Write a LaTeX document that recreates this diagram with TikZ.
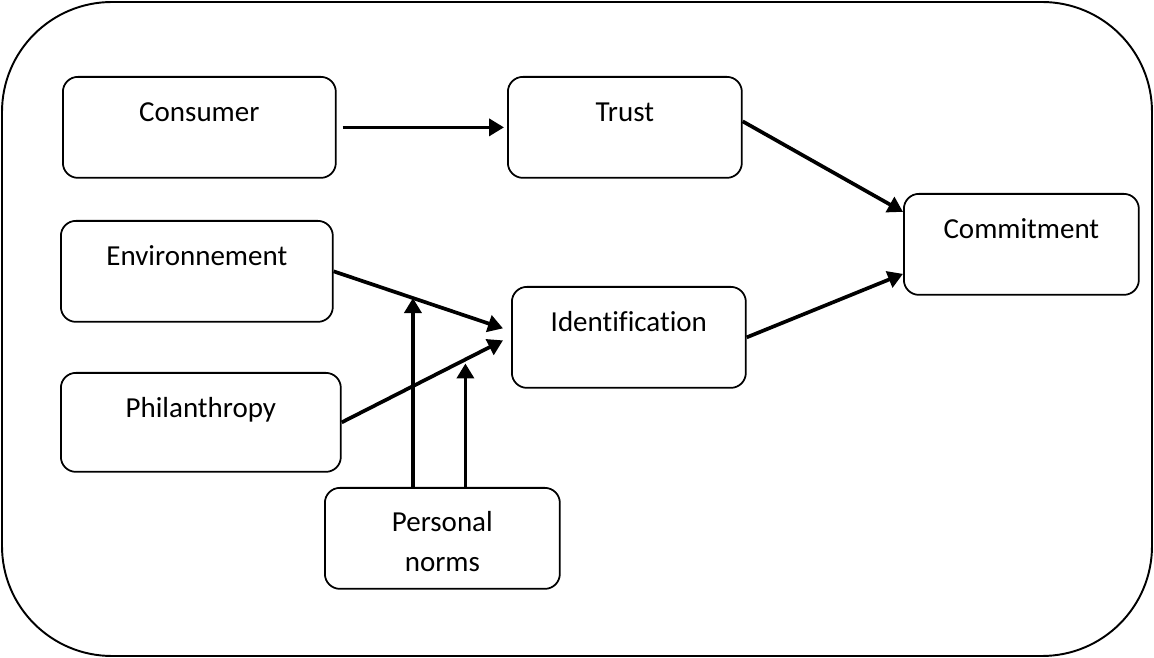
\documentclass[tikz,border=0pt]{standalone}
\usepackage{fontspec}
\setmainfont[Ligatures=NoCommon]{Carlito}
\usepackage{tikz}
\usetikzlibrary{positioning,calc,arrows.meta}
\def\outerframe{(2,2) rectangle (1152,656)}
\tikzset{
box/.style={draw, line width=1pt, rounded corners=0.3cm, anchor=north west, inner sep=0pt,
  text height=0.9cm, text depth=1.12cm, font=\fontsize{16.5}{22.7}\selectfont},
link/.style={line width=2.1pt, -{Triangle[length=0.3cm,width=0.34cm]}}
}

\begin{document}
\begin{tikzpicture}[x=0.02cm,y=-0.02cm]
 \useasboundingbox (0,0) rectangle (1154,658);
 \draw[line width=1.1pt, rounded corners=2.2cm] \outerframe;
 \node[box, minimum width=5.46cm] (consumer) at (62,76) {Consumer};
 \node[box, minimum width=4.68cm] (trust) at (507,76) {Trust};
 \node[box, minimum width=4.7cm] (commit) at (903,193) {Commitment};
 \node[box, minimum width=5.44cm] (env) at (60,220) {Environnement};
 \node[box, minimum width=4.68cm] (ident) at (511,286) {Identification};
 \node[box, minimum width=5.6cm, text depth=1.08cm] (phil) at (60,372) {Philanthropy};
 \node[box, minimum width=4.7cm, align=center, text height=1.68cm, text depth=0.34cm] (norms) at (324,487) {Personal\\norms};
 \draw[link, shorten <=0.12cm, shorten >=0.06cm] (consumer.east) -- (trust.east -| trust.west);
 \draw[link] ([yshift=0.12cm]trust.east) -- ([yshift=0.65cm]commit.west);
 \draw[link] (ident.east) -- ([yshift=-0.59cm]commit.west);
 \draw[link] (env.east) -- ($(ident.west)+(-8,-9)$) coordinate[pos=0.468] (envhit);
 \draw[link] (phil.east) -- ($(ident.west)+(-8,3)$) coordinate[pos=0.767] (philhit);
 \draw[link] (norms.north -| envhit) -- (envhit);
 \draw[link, shorten >=0.08cm] (norms.north -| philhit) -- (philhit);
\end{tikzpicture}
\end{document}
